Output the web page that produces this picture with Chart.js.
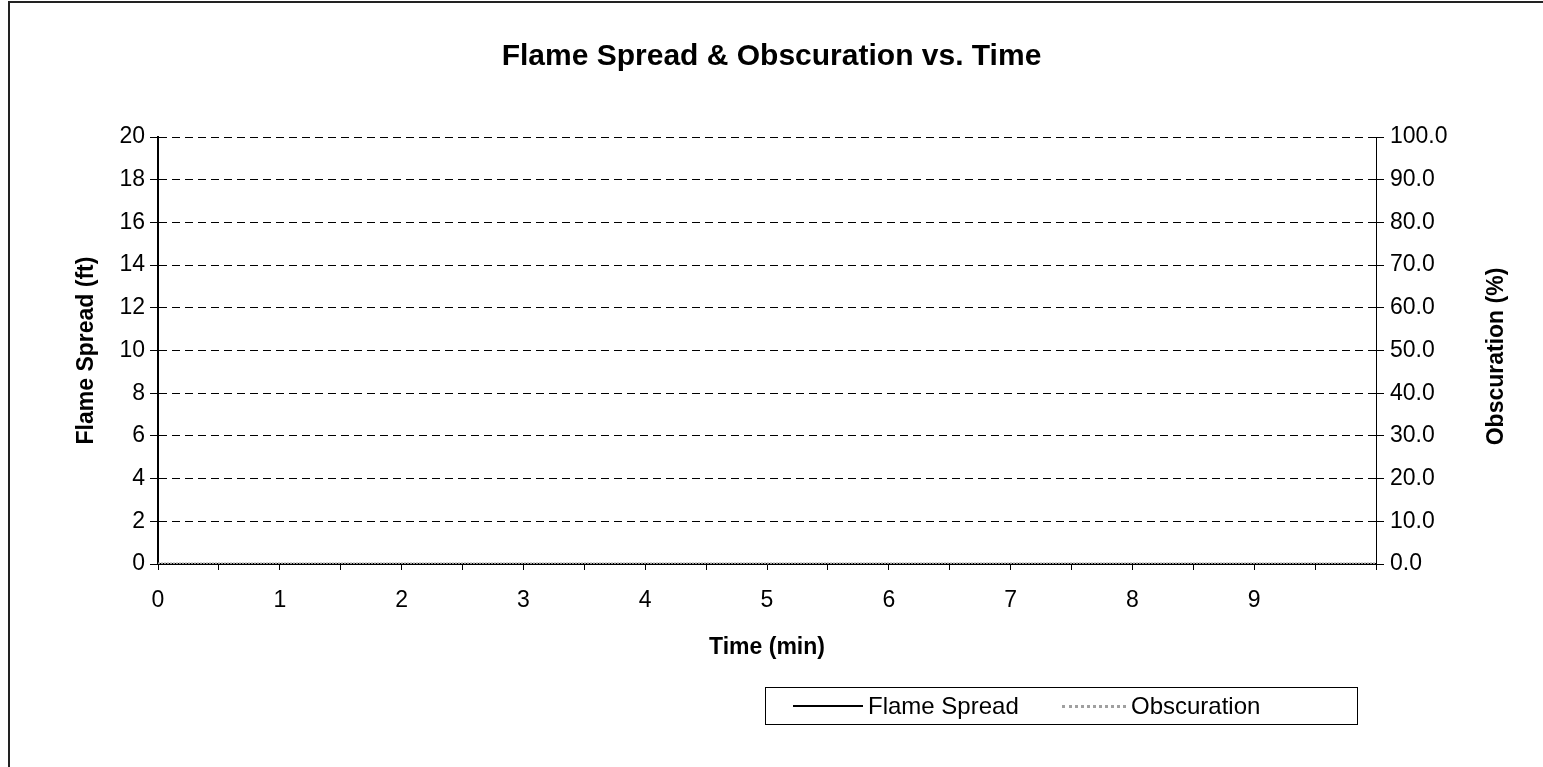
<!DOCTYPE html>
<html>
<head>
<meta charset="utf-8">
<script src="https://cdn.jsdelivr.net/npm/chart.js@4"></script>
<style>
  body { margin: 0; background: #fff; }
  #wrap { position: relative; width: 1543px; height: 767px; }
  #legend {
    position: absolute; left: 765px; top: 687px; width: 591px; height: 36px;
    border: 1px solid #000; font: 24px Arial, "Liberation Sans", sans-serif;
  }
  .item { display: flex; align-items: center; position: absolute; top: 0; height: 36px; }
  .sample { height: 0; margin-right: 5px; }
</style>
</head>
<body>
<div id="wrap">
  <canvas id="fireChart" width="1543" height="767"></canvas>
  <div id="legend"></div>
</div>
<script>
// données (tout est à zéro)
const timeMin = [0, 0.5, 1, 1.5, 2, 2.5, 3, 3.5, 4, 4.5, 5, 5.5, 6, 6.5, 7, 7.5, 8, 8.5, 9, 9.5, 10];
const flameSpread = [0, 0, 0, 0, 0, 0, 0, 0, 0, 0, 0, 0, 0, 0, 0, 0, 0, 0, 0, 0, 0];
const obscuration = [0, 0, 0, 0, 0, 0, 0, 0, 0, 0, 0, 0, 0, 0, 0, 0, 0, 0, 0, 0, 0];
const seriesNames = ['Flame Spread', 'Obscuration'];
const rightTitle = 'Obscuration (%)';

const fontFam = 'Arial, "Liberation Sans", sans-serif';

// cadre gauche/haut du graphique + titre de l'axe droit (écrit de bas en haut)
const frame = {
    id: 'frame',
    beforeDraw(chart) {
        const c = chart.ctx;
        c.save();
        c.strokeStyle = '#222';
        c.lineWidth = 2;
        c.beginPath();
        c.moveTo(9, 767);
        c.lineTo(9, 2);
        c.lineTo(1543, 2);
        c.stroke();
        c.restore();
    },
    afterDraw(chart) {
        const s = chart.scales.y2;
        const c = chart.ctx;
        c.save();
        c.translate(s.right - 26, (chart.chartArea.top + chart.chartArea.bottom) / 2 + 6);
        c.rotate(-Math.PI / 2);
        c.font = 'bold 23px ' + fontFam;
        c.fillStyle = '#000';
        c.textAlign = 'center';
        c.textBaseline = 'middle';
        c.fillText(rightTitle, 0, 0);
        c.restore();
    }
};

const ctx = document.getElementById('fireChart').getContext('2d');
const chart = new Chart(ctx, {
    type: 'line',
    data: {
        datasets: [{
            label: seriesNames[0],
            data: timeMin.map((t, i) => ({ x: t, y: flameSpread[i] })),
            borderColor: '#000',
            borderWidth: 2,
            pointRadius: 0,
            yAxisID: 'y',
            order: 2
        }, {
            label: seriesNames[1],
            data: timeMin.map((t, i) => ({ x: t, y: obscuration[i] })),
            borderColor: '#a0a0a0',
            borderWidth: 3,
            borderDash: [2, 1],
            pointRadius: 0,
            yAxisID: 'y2',
            order: 1
        }]
    },
    options: {
        responsive: false,
        animation: false,
        layout: { padding: { left: 20, right: 20, top: 0, bottom: 103 } },
        plugins: {
            legend: { display: false },
            tooltip: { enabled: false },
            title: {
                display: true,
                text: 'Flame Spread & Obscuration vs. Time',
                color: '#000',
                font: { family: fontFam, size: 30, weight: 'bold' },
                padding: { top: 39, bottom: 62 }
            }
        },
        scales: {
            x: {
                type: 'linear',
                min: 0,
                max: 10,
                afterFit: s => { s.height = 100; },
                ticks: {
                    stepSize: 0.5,
                    autoSkip: false,
                    maxRotation: 0,
                    color: '#000',
                    padding: 17,
                    font: { family: fontFam, size: 23 },
                    callback: v => (Number.isInteger(v) && v < 10) ? String(v) : ''
                },
                grid: { drawOnChartArea: false, color: '#000', tickLength: 6 },
                border: { color: '#000', width: 1 },
                title: {
                    display: true,
                    text: 'Time (min)',
                    color: '#000',
                    font: { family: fontFam, size: 23, weight: 'bold' },
                    padding: { top: 0, bottom: 3 }
                }
            },
            y: {
                position: 'left',
                min: 0,
                max: 20,
                afterFit: s => { s.width = 138; },
                ticks: {
                    stepSize: 2,
                    color: '#000',
                    padding: 5,
                    font: { family: fontFam, size: 23 }
                },
                grid: { color: '#000', lineWidth: 1, tickLength: 8 },
                border: { color: '#000', width: 2, dash: [8, 5] },
                title: {
                    display: true,
                    text: 'Flame Spread (ft)',
                    color: '#000',
                    font: { family: fontFam, size: 23, weight: 'bold' },
                    padding: { top: 53, bottom: 0 }
                }
            },
            y2: {
                position: 'right',
                min: 0,
                max: 100,
                afterFit: s => { s.width = 147; },
                ticks: {
                    stepSize: 10,
                    color: '#000',
                    padding: 6,
                    font: { family: fontFam, size: 23 },
                    callback: v => v.toFixed(1)
                },
                grid: { drawOnChartArea: false, color: '#000', tickLength: 8 },
                border: { color: '#000', width: 1 },
                title: { display: false }
            }
        }
    },
    plugins: [frame]
});

// légende HTML avec encadré
const legendEl = document.getElementById('legend');
const itemLeft = [27, 296];
const sampleWidth = [70, 64];
chart.data.datasets.forEach((ds, i) => {
    const item = document.createElement('div');
    item.className = 'item';
    item.style.left = itemLeft[i] + 'px';
    const sample = document.createElement('span');
    sample.className = 'sample';
    sample.style.width = sampleWidth[i] + 'px';
    sample.style.borderTop = ds.borderDash ? '3px dotted #a0a0a0' : '2px solid #000';
    item.appendChild(sample);
    item.appendChild(document.createTextNode(ds.label));
    legendEl.appendChild(item);
});
</script>
</body>
</html>
